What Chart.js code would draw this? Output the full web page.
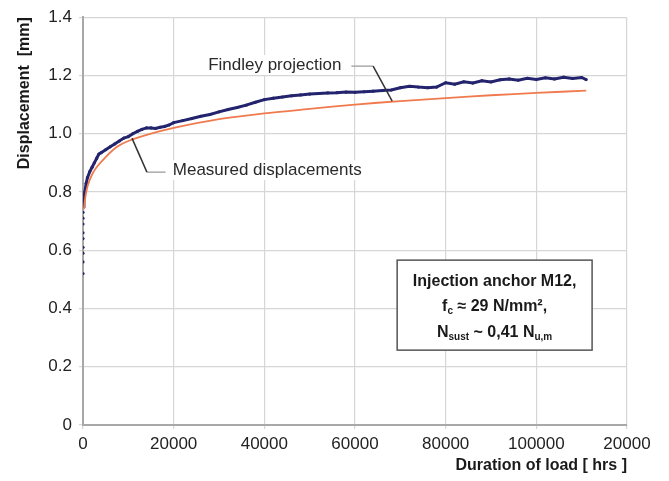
<!DOCTYPE html>
<html lang="en">
<head>
<meta charset="UTF-8" />
<title>Displacement vs duration of load</title>
<script src="https://cdn.jsdelivr.net/npm/chart.js"></script>
<style>
  body { margin: 0; background: #fff; }
  canvas { display: block; }
</style>
</head>
<body>
<canvas id="chart" width="669" height="481"></canvas>
<script>
// measured displacements (hrs, mm)
const measuredHrs = [0, 0, 0, 0, 0, 0, 0, 0, 0, 0,
  200, 400, 700, 1000, 1500, 2000, 2500, 3000, 3500, 4000, 5000, 6000, 7000, 8000, 9000,
  10000, 11000, 12000, 13000, 14000, 15000, 16000, 17000, 18000, 19000, 20000,
  22000, 24000, 26000, 28000, 30000, 32000, 34000, 36000, 38000, 40000,
  42000, 44000, 46000, 48000, 50000, 52000, 54000, 56000, 58000, 60000,
  62000, 64000, 66000, 68000, 70000, 72000, 74000, 76000, 78000, 80000,
  82000, 84000, 86000, 88000, 90000, 92000, 94000, 96000, 98000, 100000,
  102000, 104000, 106000, 108000, 110000, 111000];
const measuredMm = [0.52, 0.56, 0.59, 0.61, 0.64, 0.66, 0.69, 0.71, 0.73, 0.75,
  0.78, 0.80, 0.83, 0.85, 0.87, 0.885, 0.90, 0.915, 0.93, 0.935, 0.945, 0.955, 0.965, 0.975, 0.985,
  0.99, 1.0, 1.008, 1.015, 1.02, 1.02, 1.018, 1.022, 1.025, 1.03, 1.038,
  1.045, 1.052, 1.06, 1.066, 1.075, 1.083, 1.09, 1.098, 1.108, 1.117,
  1.122, 1.126, 1.13, 1.133, 1.136, 1.138, 1.14, 1.141, 1.143, 1.142,
  1.144, 1.146, 1.148, 1.15, 1.158, 1.163, 1.16, 1.158, 1.16, 1.175,
  1.17, 1.178, 1.174, 1.182, 1.178, 1.185, 1.188, 1.184, 1.19, 1.186,
  1.192, 1.188, 1.194, 1.19, 1.193, 1.186];

// Findley projection (hrs, mm)
const findleyHrs = [200, 500, 1000, 2000, 3000, 5000, 7500, 10000, 15000, 20000,
  30000, 40000, 50000, 60000, 70000, 80000, 90000, 100000, 111000];
const findleyMm = [0.74, 0.78, 0.82, 0.86, 0.885, 0.92, 0.955, 0.975, 1.0, 1.02,
  1.05, 1.07, 1.085, 1.10, 1.112, 1.122, 1.132, 1.14, 1.148];

const xTicks = [0, 20000, 40000, 60000, 80000, 100000, 120000];
const xTickLabels = ['0', '20000', '40000', '60000', '80000', '100000', '20000'];
const yTicks = [0, 0.2, 0.4, 0.6, 0.8, 1.0, 1.2, 1.4];
const yTickLabels = ['0', '0.2', '0.4', '0.6', '0.8', '1.0', '1.2', '1.4'];

const FONT = '"Liberation Sans", Arial, sans-serif';

function pts(xs, ys) { return xs.map((v, i) => ({ x: v, y: ys[i] })); }

// text labels with leader lines and the info box
const notes = {
  id: 'notes',
  afterDraw(chart) {
    const { ctx, scales: { x, y } } = chart;
    const px = v => x.getPixelForValue(v), py = v => y.getPixelForValue(v);
    ctx.save();

    function label(text, xv, yv, align) {
      ctx.font = '17px ' + FONT;
      const w = ctx.measureText(text).width;
      let lx = px(xv);
      if (align === 'center') lx -= w / 2;
      ctx.fillStyle = '#fff';
      ctx.fillRect(lx - 3, py(yv) - 10, w + 6, 20);
      ctx.fillStyle = '#2a2a2a';
      ctx.textBaseline = 'middle';
      ctx.textAlign = 'left';
      ctx.fillText(text, lx, py(yv));
    }
    function leader(path) {
      ctx.beginPath();
      ctx.moveTo(px(path[0][0]), py(path[0][1]));
      ctx.lineTo(px(path[1][0]), py(path[1][1]));
      ctx.strokeStyle = '#aaa';
      ctx.lineWidth = 1.5;
      ctx.stroke();
      ctx.beginPath();
      ctx.moveTo(px(path[1][0]), py(path[1][1]));
      ctx.lineTo(px(path[2][0]), py(path[2][1]));
      ctx.strokeStyle = '#333';
      ctx.lineWidth = 1.5;
      ctx.stroke();
    }

    label('Findley projection', 42300, 1.236, 'center');
    leader([[59200, 1.232], [64000, 1.232], [68200, 1.112]]);
    label('Measured displacements', 19800, 0.875, 'left');
    leader([[18200, 0.868], [14100, 0.868], [10800, 0.985]]);

    // info box
    const bx = px(69300), by = py(0.566), bw = px(112300) - bx, bh = py(0.257) - by;
    ctx.fillStyle = '#fff';
    ctx.fillRect(bx, by, bw, bh);
    ctx.strokeStyle = '#555';
    ctx.lineWidth = 1.5;
    ctx.strokeRect(bx, by, bw, bh);

    const cx = bx + bw / 2;
    const lines = [
      [['Injection anchor M12,', 0]],
      [['f', 0], ['c', 1], [' \u2248 29 N/mm\u00b2,', 0]],
      [['N', 0], ['sust', 1], [' ~ 0,41 N', 0], ['u,m', 1]]
    ];
    const ys = [by + 21, by + 46, by + 72];
    ctx.fillStyle = '#1a1a1a';
    ctx.textBaseline = 'middle';
    ctx.textAlign = 'left';
    lines.forEach((runs, i) => {
      const fontOf = sub => sub ? 'bold 10px ' + FONT : 'bold 16px ' + FONT;
      let total = 0;
      runs.forEach(r => { ctx.font = fontOf(r[1]); total += ctx.measureText(r[0]).width; });
      let xx = cx - total / 2;
      runs.forEach(r => {
        ctx.font = fontOf(r[1]);
        ctx.fillText(r[0], xx, ys[i] + (r[1] ? 5 : 0));
        xx += ctx.measureText(r[0]).width;
      });
    });
    ctx.restore();
  }
};

new Chart(document.getElementById('chart'), {
  type: 'scatter',
  data: {
    datasets: [
      {
        label: 'Findley projection',
        data: pts(findleyHrs, findleyMm),
        showLine: true,
        borderColor: '#f07a4e',
        borderWidth: 1.8,
        pointRadius: 0,
        tension: 0.3,
        order: 0
      },
      {
        label: 'Measured displacements',
        data: pts(measuredHrs, measuredMm),
        showLine: true,
        borderColor: '#24246e',
        backgroundColor: '#24246e',
        borderWidth: 3,
        pointRadius: 1.6,
        pointBorderWidth: 0,
        segment: {
          borderColor: c => c.p0.parsed.x === c.p1.parsed.x ? 'rgba(0,0,0,0)' : undefined
        },
        order: 1
      }
    ]
  },
  options: {
    responsive: false,
    animation: false,
    layout: { padding: { top: 17, right: 42, left: 0, bottom: 0 } },
    plugins: { legend: { display: false }, tooltip: { enabled: false } },
    scales: {
      x: {
        type: 'linear',
        min: 0, max: 120000,
        afterBuildTicks: s => { s.ticks = xTicks.map(v => ({ value: v })); },
        afterFit: s => { s.height = 56; },
        ticks: {
          callback: (v, i) => xTickLabels[i],
          color: '#222',
          font: { family: FONT, size: 17 },
          padding: 5,
          maxRotation: 0
        },
        grid: { color: '#d6d6d6', lineWidth: 1.2, tickLength: 4 },
        border: { color: '#a8a8a8', width: 2 },
        title: {
          display: true, text: 'Duration of load [ hrs ]', align: 'end',
          color: '#1a1a1a', font: { family: FONT, size: 16, weight: 'bold' },
          padding: { top: 0, bottom: 6 }
        }
      },
      y: {
        min: 0, max: 1.4,
        afterBuildTicks: s => { s.ticks = yTicks.map(v => ({ value: v })); },
        afterFit: s => { s.width = 83; },
        ticks: {
          callback: (v, i) => yTickLabels[i],
          color: '#222',
          font: { family: FONT, size: 17 },
          padding: 7
        },
        grid: { color: '#d6d6d6', lineWidth: 1.2, tickLength: 4 },
        border: { color: '#a8a8a8', width: 2 },
        title: {
          display: true, text: 'Displacement  [mm]', align: 'end',
          color: '#1a1a1a', font: { family: FONT, size: 16, weight: 'bold' },
          padding: { top: 15, bottom: 0 }
        }
      }
    }
  },
  plugins: [notes]
});
</script>
</body>
</html>
